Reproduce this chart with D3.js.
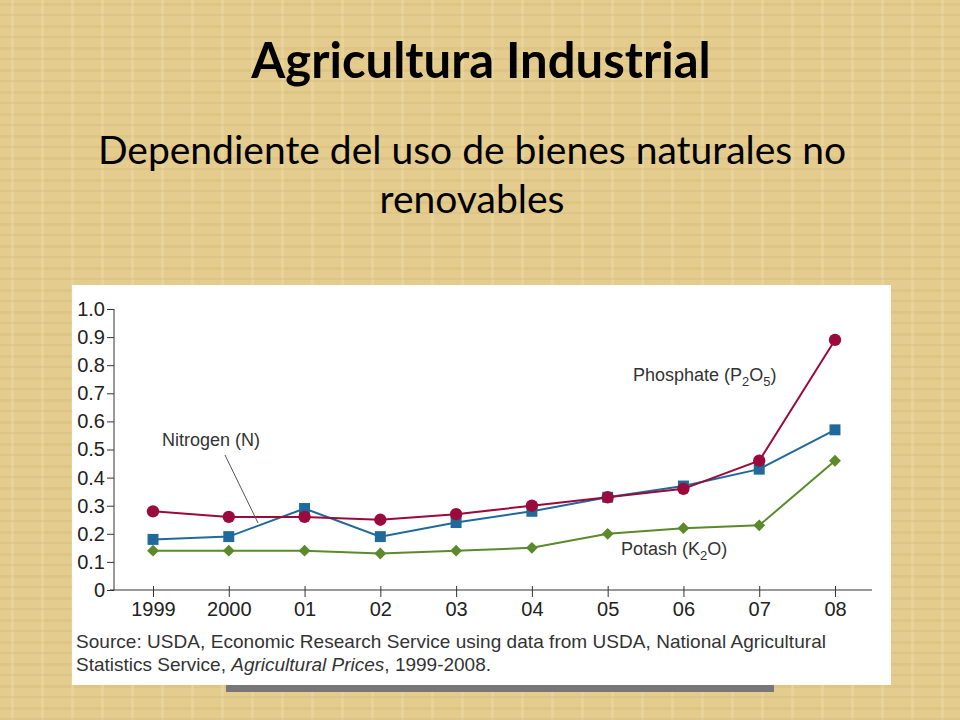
<!DOCTYPE html>
<html><head><meta charset="utf-8">
<script src="https://cdn.jsdelivr.net/npm/d3@7"></script>
<style>body{margin:0;background:#e6cf93}</style>
</head><body>
<script>
const years = ["1999", "2000", "01", "02", "03", "04", "05", "06", "07", "08"];
const phosphate = [0.28, 0.26, 0.26, 0.25, 0.27, 0.30, 0.33, 0.36, 0.46, 0.89];
const nitrogen = [0.18, 0.19, 0.29, 0.19, 0.24, 0.28, 0.33, 0.37, 0.43, 0.57];
const potash = [0.14, 0.14, 0.14, 0.13, 0.14, 0.15, 0.20, 0.22, 0.23, 0.46];
const yTicks = [0, 0.1, 0.2, 0.3, 0.4, 0.5, 0.6, 0.7, 0.8, 0.9, 1.0];

const svg = d3.select("body").append("svg").attr("width", 960).attr("height", 720);

// parchment-ish background
let defs = svg.append("defs");
let pat = defs.append("pattern").attr("id", "tex").attr("width", 30).attr("height", 22)
    .attr("patternUnits", "userSpaceOnUse");
pat.append("rect").attr("width", 30).attr("height", 22).attr("fill", "#e4cc8e");
pat.append("rect").attr("x", 0).attr("y", 3).attr("width", 30).attr("height", 3).attr("fill", "#d9bd7c").attr("opacity", 0.5);
pat.append("rect").attr("x", 11).attr("y", 0).attr("width", 3).attr("height", 22).attr("fill", "#eedba8").attr("opacity", 0.45);
pat.append("rect").attr("x", 0).attr("y", 14).attr("width", 30).attr("height", 2).attr("fill", "#d3b575").attr("opacity", 0.35);
svg.append("rect").attr("width", 960).attr("height", 720).attr("fill", "url(#tex)");

svg.append("text").attr("x", 481).attr("y", 78).attr("text-anchor", "middle")
    .style("font-family", "Lato").style("font-weight", "bold").style("font-size", "49px")
    .text("Agricultura Industrial");
svg.append("text").attr("x", 472).attr("y", 164).attr("text-anchor", "middle")
    .style("font-family", "Lato").style("font-size", "39px").text("Dependiente del uso de bienes naturales no");
svg.append("text").attr("x", 472).attr("y", 213).attr("text-anchor", "middle")
    .style("font-family", "Lato").style("font-size", "39px").text("renovables");

// image panel
svg.append("rect").attr("x", 226).attr("y", 680).attr("width", 548).attr("height", 12).attr("fill", "#777");
svg.append("rect").attr("x", 72).attr("y", 285).attr("width", 819).attr("height", 400).attr("fill", "#fff");

const x = d3.scalePoint().domain(years).range([153, 835]);
const y = d3.scaleLinear().domain([0, 1]).range([590, 309]);
const font = "Liberation Sans";

let gy = svg.append("g").attr("transform", "translate(114,0)")
    .call(d3.axisLeft(y).tickValues(yTicks).tickSize(7).tickPadding(2)
        .tickFormat(d => d === 0 ? "0" : d3.format(".1f")(d)));
gy.select(".domain").attr("d", "M0,309V590").attr("stroke", "#333");
gy.selectAll("line").attr("stroke", "#333");
gy.selectAll("text").style("font-family", font).style("font-size", "20px").attr("fill", "#222");

let gx = svg.append("g").attr("transform", "translate(0,590)")
    .call(d3.axisBottom(x).tickSize(7).tickPadding(5));
gx.select(".domain").attr("d", "M110,0H872").attr("stroke", "#333");
gx.selectAll("line").attr("stroke", "#333").attr("y1", -4);
gx.selectAll("text").style("font-family", font).style("font-size", "20px").attr("fill", "#222");

const line = d3.line().x((d, i) => x(years[i])).y(d => y(d));
const series = [
  {v: potash, c: "#5a8a2a", s: d3.symbolSquare, size: 70, rot: 45},
  {v: nitrogen, c: "#1f6a9a", s: d3.symbolSquare, size: 120, rot: 0},
  {v: phosphate, c: "#9a0a3a", s: d3.symbolCircle, size: 120, rot: 0}
];
series.forEach(sr => {
  svg.append("path").attr("d", line(sr.v)).attr("fill", "none").attr("stroke", sr.c).attr("stroke-width", 2);
  svg.selectAll(null).data(sr.v).enter().append("path")
    .attr("transform", (d, i) => `translate(${x(years[i])},${y(d)}) rotate(${sr.rot})`)
    .attr("d", d3.symbol().type(sr.s).size(sr.size)).attr("fill", sr.c);
});

function label(tx, ty, parts) {
  let t = svg.append("text").attr("x", tx).attr("y", ty)
    .style("font-family", font).attr("fill", "#333");
  parts.forEach(p => {
    let s = t.append("tspan").text(p[0]).style("font-size", p[2] ? "13px" : "18px");
    if (p[1]) s.attr("dy", p[1]);
  });
}
label(633, 381, [["Phosphate (P"], ["2", 5, 1], ["O", -5], ["5", 5, 1], [")", -5]]);
label(621, 555, [["Potash (K"], ["2", 5, 1], ["O)", -5]]);
label(162, 446, [["Nitrogen (N)"]]);
svg.append("line").attr("x1", 225).attr("y1", 455).attr("x2", 258).attr("y2", 523).attr("stroke", "#555");

svg.append("text").attr("x", 76).attr("y", 648).style("font-family", font).style("font-size", "19px").attr("fill", "#333")
  .attr("textLength", 750)
  .text("Source: USDA, Economic Research Service using data from USDA, National Agricultural");
let t2 = svg.append("text").attr("x", 76).attr("y", 671).style("font-family", font).style("font-size", "19px").attr("fill", "#333");
t2.append("tspan").text("Statistics Service, ");
t2.append("tspan").style("font-style", "italic").text("Agricultural Prices");
t2.append("tspan").text(", 1999-2008.");
</script>
</body></html>
